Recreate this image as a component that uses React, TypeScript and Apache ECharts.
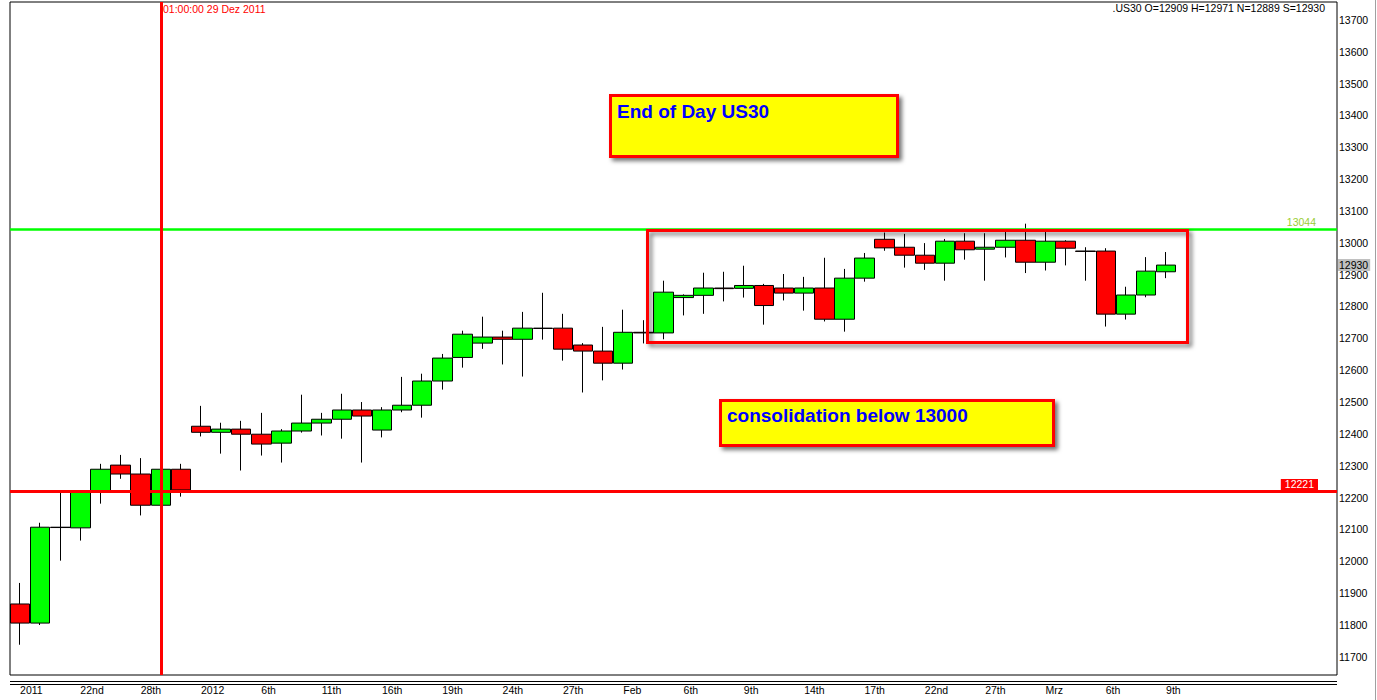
import React, { useEffect, useRef } from "react";
import * as echarts from "echarts";

// Trading days (last 8 are empty future slots)
const categories = [
  "2011-12-19", "2011-12-20", "2011-12-21", "2011-12-22", "2011-12-23", "2011-12-27", "2011-12-28", "2011-12-29", "2011-12-30",
  "2012-01-03", "2012-01-04", "2012-01-05", "2012-01-06", "2012-01-09", "2012-01-10", "2012-01-11", "2012-01-12", "2012-01-13",
  "2012-01-16", "2012-01-17", "2012-01-18", "2012-01-19", "2012-01-20", "2012-01-23", "2012-01-24", "2012-01-25", "2012-01-26",
  "2012-01-27", "2012-01-30", "2012-01-31",
  "2012-02-01", "2012-02-02", "2012-02-03", "2012-02-06", "2012-02-07", "2012-02-08", "2012-02-09", "2012-02-10", "2012-02-13",
  "2012-02-14", "2012-02-15", "2012-02-16", "2012-02-17", "2012-02-20", "2012-02-21", "2012-02-22", "2012-02-23", "2012-02-24",
  "2012-02-27", "2012-02-28", "2012-02-29",
  "2012-03-01", "2012-03-02", "2012-03-05", "2012-03-06", "2012-03-07", "2012-03-08", "2012-03-09",
  "2012-03-12", "2012-03-13", "2012-03-14", "2012-03-15", "2012-03-16", "2012-03-19", "2012-03-20", "2012-03-21",
];

// One label for every third candle
const tickLabels = ["2011", "22nd", "28th", "2012", "6th", "11th", "16th", "19th", "24th", "27th", "Feb", "6th", "9th", "14th", "17th", "22nd", "27th", "Mrz", "6th", "9th"];

const opens = [
  11866, 11806, 12107, 12105, 12217, 12302, 12274, 12176, 12289, 12424,
  12405, 12415, 12399, 12371, 12409, 12434, 12446, 12475, 12412, 12475,
  12490, 12566, 12640, 12685, 12704, 12697, 12732, 12732, 12679, 12660,
  12622, 12719, 12717, 12828, 12835, 12858, 12857, 12866, 12858, 12842,
  12858, 12760, 12889, 13011, 12986, 12961, 12936, 13005, 12980, 12986,
  13008, 12939, 13005, 12974, 12974, 12776, 12836, 12909,
];
const closes = [
  11806, 12107, 12106, 12217, 12289, 12274, 12176, 12289, 12224, 12405,
  12415, 12399, 12368, 12409, 12434, 12446, 12475, 12456, 12475, 12490,
  12566, 12638, 12713, 12704, 12697, 12732, 12731, 12666, 12660, 12622,
  12719, 12717, 12845, 12835, 12858, 12856, 12866, 12803, 12842, 12858,
  12760, 12889, 12952, 12984, 12961, 12936, 13005, 12978, 12986, 13008,
  12939, 13005, 12983, 12973, 12776, 12836, 12911, 12930,
];
const lows = [
  11738, 11800, 12002, 12065, 12181, 12259, 12144, 12170, 12203, 12392,
  12338, 12285, 12332, 12310, 12404, 12395, 12385, 12310, 12389, 12468,
  12451, 12539, 12608, 12667, 12618, 12580, 12696, 12630, 12530, 12568,
  12602, 12684, 12697, 12772, 12777, 12816, 12828, 12743, 12819, 12787,
  12753, 12721, 12878, 12975, 12922, 12915, 12881, 12947, 12881, 12954,
  12905, 12913, 12929, 12881, 12737, 12759, 12829, 12889,
];
const highs = [
  11932, 12121, 12219, 12220, 12306, 12334, 12324, 12300, 12306, 12488,
  12435, 12441, 12466, 12415, 12523, 12466, 12526, 12500, 12484, 12579,
  12589, 12651, 12724, 12768, 12724, 12783, 12843, 12777, 12685, 12736,
  12790, 12757, 12881, 12838, 12906, 12909, 12928, 12871, 12902, 12893,
  12953, 12918, 12968, 13032, 13028, 12999, 13012, 13030, 13030, 13034,
  13060, 13034, 13008, 12986, 12983, 12862, 12955, 12971,
];

const resistanceLevel = 13044;
const supportLevel = 12221;
const markerDate = "2011-12-29";
const markerText = "01:00:00 29 Dez 2011";
const titleText = "End of Day US30";
const noteText = "consolidation below 13000";
const yMin = 11643;
const yMax = 13756;

const FONT = 'Arial, "Liberation Sans", sans-serif';

export default function App() {
  const ref = useRef<HTMLDivElement>(null);

  useEffect(() => {
    const chart = echarts.init(ref.current as HTMLDivElement, null, { renderer: "svg" });
    const data = opens.map((o, i) => [o, closes[i], lows[i], highs[i]]);
    const last = data.length - 1;
    const headline = `.US30 O=${opens[last]} H=${highs[last]} N=${lows[last]} S=${closes[last]}`;

    const txt = (text: string, x: number, y: number, font: string, fill: string, align = "left") => ({
      type: "text",
      z: 100,
      style: {
        text, x, y, font, fill,
        align, verticalAlign: "middle",
        textAlign: align, textVerticalAlign: "middle",
      },
    });

    const shadow = { shadowBlur: 4, shadowOffsetX: 3, shadowOffsetY: 3, shadowColor: "rgba(0,0,0,0.55)" };

    chart.setOption({
      animation: false,
      backgroundColor: "#ffffff",
      textStyle: { fontFamily: FONT },
      grid: {
        left: 10, right: 40, top: 2, bottom: 25,
        show: true, borderColor: "#000", borderWidth: 1, backgroundColor: "#fff",
      },
      xAxis: {
        type: "category",
        data: categories,
        boundaryGap: true,
        axisLine: { show: false },
        axisTick: { show: false },
        splitLine: { show: false },
        axisLabel: {
          interval: 2,
          align: "left",
          margin: 9,
          fontSize: 10.5,
          color: "#000",
          fontFamily: FONT,
          formatter: (_v: string, i: number) => (i % 3 === 0 ? tickLabels[i / 3] ?? "" : ""),
        },
      },
      yAxis: {
        type: "value",
        position: "right",
        min: yMin,
        max: yMax,
        splitNumber: 21,
        minInterval: 100,
        maxInterval: 100,
        axisLine: { show: false },
        axisTick: { show: false },
        splitLine: { show: false },
        axisLabel: {
          showMinLabel: false,
          showMaxLabel: false,
          margin: 2,
          fontSize: 10.5,
          color: "#000",
          fontFamily: FONT,
          formatter: (v: number) => String(Math.round(v)),
        },
      },
      series: [
        {
          type: "candlestick",
          data,
          barWidth: 20,
          itemStyle: {
            color: "#00ff00",
            color0: "#ff0000",
            borderColor: "#000",
            borderColor0: "#000",
            borderColorDoji: "#000",
            borderWidth: 1,
          },
          markLine: {
            silent: true,
            symbol: "none",
            z: 10,
            data: [
              {
                yAxis: resistanceLevel,
                lineStyle: { color: "#00ff00", width: 2.5, type: "solid" },
                label: {
                  show: true, position: "insideEndTop", formatter: "{c}",
                  color: "#9acd32", fontSize: 10.5, fontFamily: FONT, distance: [21, 1],
                },
              },
              {
                yAxis: supportLevel,
                lineStyle: { color: "#ff0000", width: 3, type: "solid" },
                label: {
                  show: true, position: "insideEndTop", formatter: "{c}",
                  color: "#fff", backgroundColor: "#ff0000", padding: [0, 4, 0, 4],
                  fontSize: 10.5, fontFamily: FONT, distance: [19, 1],
                },
              },
              {
                xAxis: markerDate,
                lineStyle: { color: "#ff0000", width: 3, type: "solid" },
                label: { show: false },
              },
              {
                yAxis: closes[last],
                lineStyle: { color: "rgba(0,0,0,0)", width: 1, type: "solid" },
                label: {
                  show: true, position: "end", formatter: "{c}",
                  color: "#000", backgroundColor: "#c0c0c0", padding: [1, 2, 0, 1],
                  fontSize: 10.5, fontFamily: FONT, distance: 1,
                },
              },
            ],
          },
        },
      ],
      graphic: [
        txt(markerText, 163, 9, `10.5px ${FONT}`, "#ff0000"),
        txt(headline, 1325, 8, `10.5px ${FONT}`, "#000", "right"),
        { type: "line", z: 100, shape: { x1: 10, y1: 681.5, x2: 1337, y2: 681.5 }, style: { stroke: "#000", lineWidth: 1 } },
        { type: "line", z: 100, shape: { x1: 10, y1: 684.5, x2: 1337, y2: 684.5 }, style: { stroke: "#000", lineWidth: 1 } },
        { type: "line", z: 100, shape: { x1: 1375.5, y1: 0, x2: 1375.5, y2: 700 }, style: { stroke: "#a0a0a0", lineWidth: 1 } },
        {
          type: "rect", z: 100,
          shape: { x: 647.5, y: 230.5, width: 540, height: 112 },
          style: { fill: "none", stroke: "#ff0000", lineWidth: 3, ...shadow },
        },
        {
          type: "rect", z: 100,
          shape: { x: 610.5, y: 95.5, width: 287, height: 61 },
          style: { fill: "#ffff00", stroke: "#ff0000", lineWidth: 3, ...shadow },
        },
        txt(titleText, 617, 111, `bold 19px ${FONT}`, "#0000ff"),
        {
          type: "rect", z: 100,
          shape: { x: 720.5, y: 400.5, width: 333, height: 45 },
          style: { fill: "#ffff00", stroke: "#ff0000", lineWidth: 3, ...shadow },
        },
        txt(noteText, 727, 415, `bold 19px ${FONT}`, "#0000ff"),
      ],
    });

    return () => chart.dispose();
  }, []);

  return <div ref={ref} style={{ position: "absolute", left: 0, top: 0, width: 1377, height: 700 }} />;
}
